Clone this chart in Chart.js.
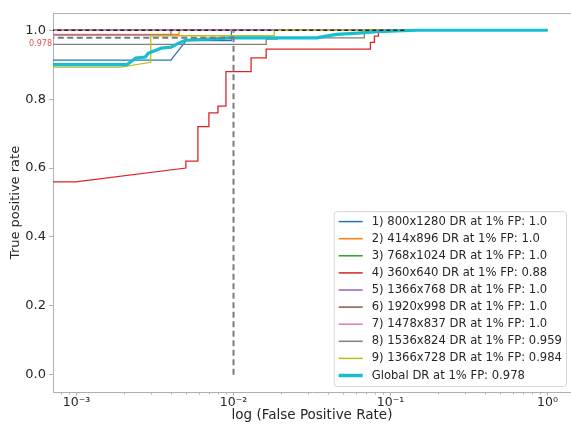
<!DOCTYPE html>
<html>
<head>
<meta charset="utf-8">
<script src="https://cdn.jsdelivr.net/npm/chart.js@4.4.1/dist/chart.umd.min.js"></script>
<style>
  html, body { margin: 0; padding: 0; background: #fff; overflow: hidden; }
  canvas { display: block; }
</style>
</head>
<body>
<canvas id="roc" width="571" height="425"></canvas>
<script>
// legend text parts
const resolutions = ['800x1280', '414x896', '768x1024', '360x640', '1366x768', '1920x998', '1478x837', '1536x824', '1366x728'];
const drAtOnePct = ['1.0', '1.0', '1.0', '0.88', '1.0', '1.0', '1.0', '0.959', '0.984'];
const colors = ['#1f77b4', '#ff7f0e', '#2ca02c', '#d62728', '#9467bd', '#8c564b', '#e377c2', '#7f7f7f', '#bcbd22'];

// ROC points (fpr, tpr)
const fpr1 = [0.0005, 0.00399, 0.00499, 0.0097, 0.0097, 1];
const tpr1 = [0.913, 0.913, 0.970, 0.970, 1.0, 1.0];
const fpr2 = [0.0005, 0.0045, 0.0045, 1];
const tpr2 = [0.988, 0.988, 1.0, 1.0];
const fpr3 = [0.0005, 1];
const tpr3 = [1.0, 1.0];
const fpr4 = [0.0005, 0.000986, 0.00497, 0.00497, 0.00593, 0.00593, 0.00697, 0.00697, 0.00796, 0.00796, 0.00895, 0.00895,
              0.01294, 0.01294, 0.01614, 0.01614, 0.0745, 0.0745, 0.079, 0.079, 0.0838, 0.0838, 1];
const tpr4 = [0.56, 0.56, 0.60, 0.62, 0.62, 0.72, 0.72, 0.76, 0.76, 0.78, 0.78, 0.88,
              0.88, 0.92, 0.92, 0.945, 0.945, 0.965, 0.965, 0.983, 0.983, 1.0, 1.0];
const fpr5 = [0.0005, 0.00399, 0.00399, 1];
const tpr5 = [0.986, 0.986, 1.0, 1.0];
const fpr6 = [0.0005, 1];
const tpr6 = [1.0, 1.0];
const fpr7 = [0.0005, 1];
const tpr7 = [1.0, 1.0];
const fpr8 = [0.0005, 0.01614, 0.01614, 0.01897, 0.01897, 0.0682, 0.0682, 1];
const tpr8 = [0.959, 0.959, 0.974, 0.974, 0.978, 0.978, 1.0, 1.0];
const fpr9 = [0.0005, 0.00191, 0.00297, 0.00297, 0.01815, 0.01815, 1];
const tpr9 = [0.893, 0.893, 0.907, 0.984, 0.984, 1.0, 1.0];

const fprGlobal = [0.0005, 0.00209, 0.00238, 0.00274, 0.00286, 0.00346, 0.00400, 0.00444, 0.00493, 0.00694, 0.00978,
                   0.0337, 0.0452, 0.0589, 0.0826, 0.149, 1];
const tprGlobal = [0.900, 0.900, 0.919, 0.922, 0.933, 0.948, 0.951, 0.962, 0.971, 0.974, 0.978,
                   0.978, 0.988, 0.991, 0.996, 1.0, 1.0];
const globalDR = 0.978;

const fprPerfect = [0.0005, 0.128];
const tprPerfect = [1.0, 1.0];
const fpThreshold = 0.01;

const xTickValues = [1e-3, 1e-2, 1e-1, 1];
const xTickLabels = ['10\u207B\u00B3', '10\u207B\u00B2', '10\u207B\u00B9', '10\u2070'];
const yTickValues = [0, 0.2, 0.4, 0.6, 0.8, 1.0];

const allFpr = [fpr1, fpr2, fpr3, fpr4, fpr5, fpr6, fpr7, fpr8, fpr9];
const allTpr = [tpr1, tpr2, tpr3, tpr4, tpr5, tpr6, tpr7, tpr8, tpr9];

const toPoints = (xs, ys) => xs.map((x, i) => ({ x: x, y: ys[i] }));

const datasets = resolutions.map((r, i) => ({
    label: (i + 1) + ') ' + r + ' DR at 1% FP: ' + drAtOnePct[i],
    data: toPoints(allFpr[i], allTpr[i]),
    borderColor: colors[i],
    borderWidth: 1.3,
    inLegend: true,
    order: 30 - i
}));

datasets.push({
    label: 'Global DR at 1% FP: ' + globalDR,
    data: toPoints(fprGlobal, tprGlobal),
    borderColor: '#17becf',
    borderWidth: 3.2,
    inLegend: true,
    order: 10
});
datasets.push({
    label: 'perfect',
    data: toPoints(fprPerfect, tprPerfect),
    borderColor: '#222',
    borderWidth: 1.3,
    borderDash: [4, 3],
    order: 5
});
datasets.push({
    label: 'fp threshold',
    data: [{ x: fpThreshold, y: 0 }, { x: fpThreshold, y: 1 }],
    borderColor: '#7a7a7a',
    borderWidth: 2,
    borderDash: [6, 3.5],
    order: 4
});
datasets.push({
    label: 'dr level',
    data: [{ x: fprGlobal[0], y: globalDR }, { x: fpThreshold, y: globalDR }],
    borderColor: '#7a7a7a',
    borderWidth: 2,
    borderDash: [6, 3.5],
    order: 3
});

const FONT = '"DejaVu Sans", sans-serif';
const SPINE = '#b0b0b0';

const extras = {
    id: 'extras',
    beforeDatasetsDraw(chart) {
        const { ctx, chartArea } = chart;
        const xs = chart.scales.x;
        ctx.save();
        // top spine
        ctx.strokeStyle = SPINE;
        ctx.lineWidth = 1;
        ctx.beginPath();
        ctx.moveTo(chartArea.left, chartArea.top + 0.5);
        ctx.lineTo(chartArea.right, chartArea.top + 0.5);
        ctx.stroke();
        // minor log ticks
        ctx.beginPath();
        for (let d = -4; d <= 0; d++) {
            for (let k = 2; k <= 9; k++) {
                const v = k * Math.pow(10, d);
                if (v < xs.min || v > xs.max) continue;
                const px = Math.round(xs.getPixelForValue(v)) + 0.5;
                ctx.moveTo(px, chartArea.bottom);
                ctx.lineTo(px, chartArea.bottom + 2.5);
            }
        }
        ctx.stroke();
        // red label of the global DR
        const ys = chart.scales.y;
        ctx.fillStyle = 'rgba(230, 60, 60, 0.9)';
        ctx.font = '8px ' + FONT;
        ctx.textAlign = 'right';
        ctx.textBaseline = 'middle';
        ctx.fillText(globalDR.toFixed(3), chartArea.left - 1, ys.getPixelForValue(globalDR) + 6.5);
        ctx.restore();
    },
    afterDatasetsDraw(chart) {
        const { ctx, chartArea } = chart;
        const items = chart.data.datasets.filter(d => d.inLegend);
        ctx.save();
        ctx.font = '11.6px ' + FONT;
        const textW = Math.max(...items.map(d => ctx.measureText(d.label).width));
        const rowH = 17.1;
        const w = 5 + 24 + 9 + textW + 4;
        const h = rowH * (items.length - 1) + 21;
        const x0 = chartArea.right - 5 - w;
        const y0 = chartArea.bottom - 6 - h;
        ctx.beginPath();
        ctx.roundRect(x0 + 0.5, y0 + 0.5, w, h, 3);
        ctx.fillStyle = 'rgba(255,255,255,0.85)';
        ctx.fill();
        ctx.strokeStyle = '#d6d6d6';
        ctx.lineWidth = 1;
        ctx.stroke();
        items.forEach((d, i) => {
            const cy = y0 + 10.5 + i * rowH;
            ctx.beginPath();
            ctx.strokeStyle = d.borderColor;
            ctx.lineWidth = d.borderWidth > 2 ? 3.5 : 1.5;
            ctx.moveTo(x0 + 5, cy);
            ctx.lineTo(x0 + 29, cy);
            ctx.stroke();
            ctx.fillStyle = '#262626';
            ctx.textAlign = 'left';
            ctx.textBaseline = 'middle';
            ctx.fillText(d.label, x0 + 38, cy);
        });
        ctx.restore();
    }
};

new Chart(document.getElementById('roc').getContext('2d'), {
    type: 'line',
    data: { datasets: datasets },
    options: {
        responsive: false,
        animation: false,
        layout: { padding: { top: 13, right: 0, left: 0, bottom: 0 } },
        elements: {
            point: { radius: 0 },
            line: { tension: 0, fill: false }
        },
        plugins: {
            legend: { display: false },
            tooltip: { enabled: false }
        },
        scales: {
            x: {
                type: 'logarithmic',
                min: Math.pow(10, -3.15),
                max: Math.pow(10, 0.15),
                afterBuildTicks: s => { s.ticks = xTickValues.map(v => ({ value: v })); },
                afterFit: s => { s.height = 33; },
                grid: { display: true, drawOnChartArea: false, tickLength: 3.5, color: SPINE },
                border: { display: true, color: SPINE },
                ticks: {
                    color: '#262626',
                    font: { family: FONT, size: 12.5 },
                    padding: 0,
                    maxRotation: 0,
                    autoSkip: false,
                    callback: v => {
                        const i = xTickValues.findIndex(t => Math.abs(t - v) / t < 1e-6);
                        return i >= 0 ? xTickLabels[i] : '';
                    }
                },
                title: {
                    display: true,
                    text: 'log (False Positive Rate)',
                    color: '#262626',
                    font: { family: FONT, size: 13.5 },
                    padding: { top: 0, bottom: 1 }
                }
            },
            y: {
                type: 'linear',
                min: -0.05,
                max: 1.05,
                afterBuildTicks: s => { s.ticks = yTickValues.map(v => ({ value: v })); },
                afterFit: s => { s.width = 53; },
                grid: { display: true, drawOnChartArea: false, tickLength: 4, color: SPINE },
                border: { display: true, color: SPINE },
                ticks: {
                    color: '#262626',
                    font: { family: FONT, size: 13 },
                    padding: 3,
                    callback: v => v.toFixed(1)
                },
                title: {
                    display: true,
                    text: 'True positive rate',
                    color: '#262626',
                    font: { family: FONT, size: 13 },
                    padding: { top: 8, bottom: 0 }
                }
            }
        }
    },
    plugins: [extras]
});
</script>
</body>
</html>
